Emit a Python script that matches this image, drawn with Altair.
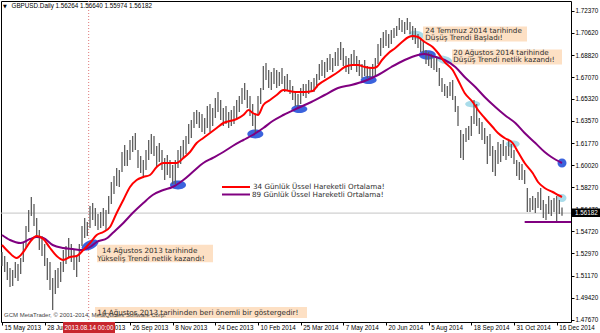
import altair as alt
import pandas as pd

# ---------------- data ----------------
BAR_IDX = list(range(0, 421, 2))  # bar index (trading days from 15 May 2013), every 2nd bar
BAR_HIGH = [
    1.5307, 1.5275, 1.5227, 1.5179, 1.5163, 1.5227, 1.5211, 1.5259, 1.5387, 1.5515,
    1.5643, 1.5747, 1.5691, 1.5579, 1.5483, 1.5435, 1.5371, 1.5259, 1.5227, 1.5099,
    1.5163, 1.5179, 1.5227, 1.5323, 1.5355, 1.5419, 1.5371, 1.5323, 1.5275, 1.5371,
    1.5515, 1.5579, 1.5547, 1.5675, 1.5699, 1.5659, 1.5611, 1.5627, 1.5659, 1.5643,
    1.5755, 1.5867, 1.5915, 1.5979, 1.5963, 1.6107, 1.6163, 1.6123, 1.6203, 1.6235,
    1.6259, 1.6123, 1.6075, 1.6043, 1.6123, 1.6203, 1.6251, 1.6235, 1.6155, 1.6179,
    1.6123, 1.6059, 1.6083, 1.6043, 1.6003, 1.6043, 1.6123, 1.6155, 1.6203, 1.6235,
    1.6331, 1.6363, 1.6427, 1.6443, 1.6427, 1.6411, 1.6379, 1.6475, 1.6491, 1.6459,
    1.6539, 1.6587, 1.6523, 1.6459, 1.6475, 1.6427, 1.6443, 1.6475, 1.6523, 1.6555,
    1.6619, 1.6659, 1.6603, 1.6555, 1.6491, 1.6411, 1.6555, 1.6619, 1.6795, 1.6819,
    1.6763, 1.6747, 1.6779, 1.6763, 1.6747, 1.6779, 1.6715, 1.6731, 1.6683, 1.6635,
    1.6587, 1.6571, 1.6619, 1.6651, 1.6651, 1.6683, 1.6667, 1.6699, 1.6731, 1.6811,
    1.6843, 1.6827, 1.6859, 1.6891, 1.6859, 1.6907, 1.6939, 1.6987, 1.6939, 1.6875,
    1.6859, 1.6891, 1.6923, 1.6875, 1.6843, 1.6811, 1.6843, 1.6795, 1.6779, 1.6811,
    1.6859, 1.6971, 1.7019, 1.7067, 1.7083, 1.7051, 1.7083, 1.7099, 1.7115, 1.7179,
    1.7163, 1.7147, 1.7179, 1.7147, 1.7115, 1.7099, 1.7051, 1.7019, 1.7003, 1.6923,
    1.6907, 1.6891, 1.6859, 1.6875, 1.6779, 1.6699, 1.6651, 1.6635, 1.6667, 1.6683,
    1.6555, 1.6475, 1.6283, 1.6251, 1.6299, 1.6315, 1.6395, 1.6523, 1.6491, 1.6379,
    1.6347, 1.6299, 1.6235, 1.6251, 1.6155, 1.6123, 1.6187, 1.6171, 1.6203, 1.6155,
    1.6203, 1.6171, 1.6123, 1.6043, 1.6027, 1.6011, 1.5963, 1.5819, 1.5739, 1.5755,
    1.5739, 1.5787, 1.5819, 1.5723, 1.5691, 1.5755, 1.5723, 1.5739, 1.5755, 1.5723, 1.5664,
]
BAR_LOW = [
    1.5195, 1.5147, 1.5083, 1.5027, 1.5035, 1.5099, 1.5075, 1.5131, 1.5227, 1.5339,
    1.5467, 1.5595, 1.5515, 1.5435, 1.5323, 1.5275, 1.5195, 1.5083, 1.5003, 1.4843,
    1.4971, 1.5019, 1.5067, 1.5147, 1.5211, 1.5259, 1.5227, 1.5163, 1.5107, 1.5227,
    1.5355, 1.5419, 1.5435, 1.5499, 1.5563, 1.5515, 1.5483, 1.5499, 1.5515, 1.5483,
    1.5611, 1.5691, 1.5771, 1.5835, 1.5827, 1.5947, 1.5995, 1.5995, 1.6043, 1.6107,
    1.6123, 1.5979, 1.5939, 1.5907, 1.5963, 1.6043, 1.6091, 1.6075, 1.5995, 1.6027,
    1.5963, 1.5883, 1.5923, 1.5899, 1.5851, 1.5851, 1.5979, 1.6011, 1.6059, 1.6091,
    1.6171, 1.6219, 1.6299, 1.6331, 1.6299, 1.6267, 1.6251, 1.6299, 1.6267, 1.6315,
    1.6379, 1.6427, 1.6363, 1.6315, 1.6331, 1.6299, 1.6315, 1.6331, 1.6379, 1.6427,
    1.6491, 1.6523, 1.6459, 1.6395, 1.6315, 1.6251, 1.6411, 1.6491, 1.6603, 1.6683,
    1.6619, 1.6603, 1.6651, 1.6619, 1.6635, 1.6651, 1.6587, 1.6603, 1.6571, 1.6523,
    1.6475, 1.6459, 1.6491, 1.6555, 1.6539, 1.6571, 1.6587, 1.6587, 1.6619, 1.6683,
    1.6715, 1.6699, 1.6747, 1.6763, 1.6747, 1.6795, 1.6795, 1.6843, 1.6795, 1.6747,
    1.6731, 1.6763, 1.6795, 1.6747, 1.6715, 1.6699, 1.6715, 1.6699, 1.6683, 1.6699,
    1.6715, 1.6811, 1.6875, 1.6939, 1.6955, 1.6939, 1.6971, 1.7019, 1.7035, 1.7083,
    1.7067, 1.7051, 1.7083, 1.7051, 1.7003, 1.6971, 1.6939, 1.6907, 1.6891, 1.6811,
    1.6795, 1.6779, 1.6763, 1.6747, 1.6635, 1.6587, 1.6555, 1.6539, 1.6555, 1.6523,
    1.6427, 1.6315, 1.6059, 1.6043, 1.6187, 1.6203, 1.6235, 1.6331, 1.6315, 1.6251,
    1.6203, 1.6171, 1.6011, 1.6075, 1.5947, 1.5915, 1.6011, 1.6027, 1.6075, 1.6043,
    1.6075, 1.6059, 1.6011, 1.5915, 1.5883, 1.5883, 1.5851, 1.5627, 1.5627, 1.5643,
    1.5619, 1.5659, 1.5643, 1.5579, 1.5563, 1.5611, 1.5595, 1.5627, 1.5547, 1.5611, 1.5597,
]

EMA34_IDX = [0, 5, 11, 16, 21, 26, 31, 36, 41, 46, 51, 56, 61, 66, 71, 76, 81, 86, 91, 96,
             101, 106, 111, 116, 121, 126, 131, 136, 141, 146, 151, 156, 161, 166, 171, 176,
             181, 185, 188, 192, 196, 201, 206, 211, 220, 227, 233, 237, 245, 252, 257, 263,
             267, 272, 278, 281, 285, 290, 295, 300, 305, 308, 312, 317, 323, 327, 332, 338,
             342, 347, 353, 357, 362, 368, 372, 377, 383, 387, 392, 398, 402, 407, 413, 417, 420]
EMA34 = [1.5363, 1.5307, 1.5259, 1.5307, 1.5387, 1.5435, 1.5411, 1.5339, 1.5275, 1.5243,
         1.5267, 1.5275, 1.5323, 1.5379, 1.5443, 1.5467, 1.5507, 1.5619, 1.5723, 1.5827,
         1.5883, 1.5907, 1.5923, 1.5987, 1.6019, 1.6019, 1.6019, 1.6059, 1.6107, 1.6179,
         1.6219, 1.6259, 1.6299, 1.6339, 1.6355, 1.6371, 1.6403, 1.6443, 1.6419, 1.6403,
         1.6483, 1.6523, 1.6563, 1.6603, 1.6587, 1.6587, 1.6595, 1.6643, 1.6699, 1.6747,
         1.6787, 1.6803, 1.6803, 1.6787, 1.6779, 1.6787, 1.6843, 1.6899, 1.6939, 1.6987,
         1.7027, 1.7035, 1.7027, 1.6987, 1.6947, 1.6899, 1.6827, 1.6763, 1.6683, 1.6579,
         1.6507, 1.6443, 1.6379, 1.6307, 1.6259, 1.6219, 1.6179, 1.6107, 1.6019, 1.5939,
         1.5867, 1.5819, 1.5787, 1.5763, 1.5747]

EMA89_IDX = [0, 6, 14, 21, 26, 31, 38, 46, 53, 60, 66, 71, 79, 83, 91, 98, 106, 113, 121, 128,
             136, 143, 151, 158, 166, 173, 181, 188, 196, 203, 211, 222, 232, 242, 252, 262,
             272, 282, 292, 302, 312, 317, 325, 332, 340, 347, 355, 362, 370, 377, 385, 392,
             400, 407, 412, 420]
EMA89 = [1.5443, 1.5403, 1.5379, 1.5411, 1.5427, 1.5419, 1.5363, 1.5339, 1.5331, 1.5323,
         1.5347, 1.5387, 1.5419, 1.5459, 1.5539, 1.5619, 1.5699, 1.5763, 1.5803, 1.5827,
         1.5883, 1.5947, 1.6019, 1.6059, 1.6107, 1.6155, 1.6203, 1.6243, 1.6299, 1.6355,
         1.6403, 1.6459, 1.6507, 1.6563, 1.6619, 1.6643, 1.6675, 1.6723, 1.6787, 1.6843,
         1.6883, 1.6891, 1.6867, 1.6843, 1.6787, 1.6707, 1.6627, 1.6547, 1.6467, 1.6403,
         1.6339, 1.6259, 1.6179, 1.6107, 1.6067, 1.6019]

PRICE_TICKS = [1.72370, 1.70620, 1.68820, 1.67070, 1.65320, 1.63570, 1.61770, 1.60020,
               1.58270, 1.56470, 1.54720, 1.52970, 1.51170, 1.49420, 1.47670]
DATE_TICK_IDX = [0, 32, 64, 96, 128, 160, 192, 224, 256, 288, 320, 352, 384, 416]
DATE_LABELS = ["15 May 2013", "28 Jun 2013", "13 Aug 2013", "26 Sep 2013", "8 Nov 2013",
               "24 Dec 2013", "10 Feb 2014", "25 Mar 2014", "7 May 2014", "20 Jun 2014",
               "5 Aug 2014", "18 Sep 2014", "31 Oct 2014", "16 Dec 2014"]

LAST_PRICE = 1.56182
OHLC = "1.56264 1.56640 1.55974 1.56182"
SUPPORT_PRICE = 1.5547
SUPPORT_FROM = 392
MARK_IDX = 65  # 14 Aug 2013

# highlighted touch points (ellipses)
ELL_IDX = [66, 132, 190, 223, 275, 319, 420, 311, 332, 353, 383, 420]
ELL_PRICE = [1.5363, 1.5843, 1.6251, 1.6451, 1.6683, 1.6883, 1.6019,
             1.7043, 1.6843, 1.6491, 1.6171, 1.5739]
ELL_KIND = ["dark"] * 7 + ["light"] * 5

# annotations
ANN_TEXT = ["24 Temmuz 2014 tarihinde", "Düşüş Trendi Başladı!",
            "20 Ağustos 2014 tarihinde", "Düşüş Trendi netlik kazandı!",
            "14 Ağustos 2013 tarihinde", "Yükseliş Trendi netlik kazandı!",
            "14 Ağustos 2013 tarihinden beri önemli bir göstergedir!"]
ANN_IDX = [317.5, 317.5, 338.5, 338.5, 75, 71.5, 71.5]
ANN_PRICE = [1.7077, 1.7021, 1.6897, 1.6841, 1.5319, 1.5255, 1.4823]
BOX_X1 = [315.75, 337.5, 71.25, 69.75]
BOX_X2 = [393.75, 420.0, 158.25, 228.75]
BOX_Y1 = [1.7111, 1.6927, 1.5365, 1.4867]
BOX_Y2 = [1.6991, 1.6807, 1.5225, 1.4779]

# ---------------- styles ----------------
RED = "#ff0000"
PURPLE = "#800080"
BAR_COLOR = "#5e5e5e"
PEACH = "#fde0c4"
DARK_BLUE = "#3b63dd"
LIGHT_BLUE = "#a9dcea"
TXT_FONT = "DejaVu Sans"
AX_FONT = "Liberation Sans"
TXT_SIZE = 7.2

ELL_W = [18, 16, 16, 16, 16, 17, 9, 16, 16, 15, 14, 9]
ELL_R = [0.5, 0.55, 0.55, 0.5, 0.5, 0.55, 1.0, 0.5, 0.5, 0.45, 0.5, 0.9]
ELL_ANG = [335, 0, 0, 0, 0, 0, 0, 10, 15, 0, 0, 0]

W, H = 570, 321
xs = alt.Scale(domain=[-0.75, 426.75], nice=False, zero=False)
ys = alt.Scale(domain=[1.4747, 1.7315], nice=False, zero=False)

label_arr = "[" + ",".join("'" + s + "'" for s in DATE_LABELS) + "]"

x_axis = alt.Axis(values=DATE_TICK_IDX, labelExpr=label_arr + "[round(datum.value/32)]",
                  orient="bottom", tickSize=3, tickColor="black", labelAlign="left",
                  labelOffset=2, labelPadding=-1, labelFont=AX_FONT, labelFontSize=6.3,
                  labelColor="black", domain=False, grid=False, title=None,
                  labelFlush=False, labelOverlap=False, labelBound=False)
y_axis = alt.Axis(values=PRICE_TICKS, format=".5f", orient="right", tickSize=3,
                  tickColor="black", labelPadding=1, labelFont=AX_FONT, labelFontSize=6.3,
                  labelColor="black", domain=False, grid=False, title=None,
                  labelOverlap=False, labelFlush=False, labelBound=False)


def X(field):
    return alt.X(field, scale=xs, axis=x_axis)


def Y(field):
    return alt.Y(field, scale=ys, axis=y_axis)


bars_df = pd.DataFrame({"idx": BAR_IDX, "high": BAR_HIGH, "low": BAR_LOW})
e34_df = pd.DataFrame({"idx": EMA34_IDX, "v": EMA34})
e89_df = pd.DataFrame({"idx": EMA89_IDX, "v": EMA89})
ell_df = pd.DataFrame({
    "idx": ELL_IDX, "p": ELL_PRICE,
    "col": [DARK_BLUE if k == "dark" else LIGHT_BLUE for k in ELL_KIND],
    "shape": [f"M-1,0A1,{r},0,1,0,1,0A1,{r},0,1,0,-1,0Z" for r in ELL_R],
    "size": [w * w for w in ELL_W],
    "ang": ELL_ANG,
})
ann_df = pd.DataFrame({"idx": ANN_IDX, "p": ANN_PRICE, "t": ANN_TEXT})
box_df = pd.DataFrame({"x1": BOX_X1, "x2": BOX_X2, "y1": BOX_Y1, "y2": BOX_Y2})
price_df = pd.DataFrame({"p": [LAST_PRICE]})
mark_df = pd.DataFrame({"idx": [MARK_IDX]})
sup_df = pd.DataFrame({"x1": [SUPPORT_FROM], "x2": [430], "p": [SUPPORT_PRICE]})
one = pd.DataFrame({"a": [0]})

price_line = alt.Chart(price_df).mark_rule(color="#c4c4c4", strokeWidth=1).encode(y=Y("p:Q"))
vline = alt.Chart(mark_df).mark_rule(color="#e07a7a", strokeWidth=1, strokeDash=[1, 2]).encode(
    x=X("idx:Q"))

ellipses = alt.Chart(ell_df).mark_point(filled=True, opacity=1, strokeWidth=0).encode(
    x=X("idx:Q"), y=Y("p:Q"),
    color=alt.Color("col:N", scale=None),
    shape=alt.Shape("shape:N", scale=None),
    size=alt.Size("size:Q", scale=None),
    angle=alt.Angle("ang:Q", scale=None),
)

boxes = alt.Chart(box_df).mark_rect(color=PEACH).encode(
    x=X("x1:Q"), x2="x2:Q", y=Y("y1:Q"), y2="y2:Q")

bars = alt.Chart(bars_df).mark_rule(color=BAR_COLOR, strokeWidth=1.3).encode(
    x=X("idx:Q"), y=Y("low:Q"), y2="high:Q")

ema89 = alt.Chart(e89_df).mark_line(color=PURPLE, strokeWidth=2, interpolate="monotone").encode(
    x=X("idx:Q"), y=Y("v:Q"))
ema34 = alt.Chart(e34_df).mark_line(color=RED, strokeWidth=2, interpolate="monotone").encode(
    x=X("idx:Q"), y=Y("v:Q"))

support = alt.Chart(sup_df).mark_rule(color=PURPLE, strokeWidth=2, clip=True).encode(
    x=X("x1:Q"), x2="x2:Q", y=Y("p:Q"))

copyright_txt = alt.Chart(one).mark_text(
    text="GCM MetaTrader, © 2001-2014, MetaQuotes Software Corp.", align="left",
    baseline="middle", font=AX_FONT, fontSize=6, color="#444444").encode(
    x=alt.value(3), y=alt.value(313.5))

ann = alt.Chart(ann_df).mark_text(align="left", baseline="middle", font=TXT_FONT,
                                  fontSize=TXT_SIZE, color="#2e2e2e").encode(
    x=X("idx:Q"), y=Y("p:Q"), text="t:N")

# legend
leg_r = alt.Chart(one).mark_rule(color=RED, strokeWidth=2).encode(
    x=alt.value(221), x2=alt.value(249), y=alt.value(186))
leg_p = alt.Chart(one).mark_rule(color=PURPLE, strokeWidth=2).encode(
    x=alt.value(221), x2=alt.value(249), y=alt.value(193.5))
leg_t1 = alt.Chart(one).mark_text(text="34 Günlük Üssel Hareketli Ortalama!", align="left",
                                  baseline="middle", font=TXT_FONT, fontSize=TXT_SIZE,
                                  color="#2e2e2e").encode(x=alt.value(252), y=alt.value(185.8))
leg_t2 = alt.Chart(one).mark_text(text="89 Günlük Üssel Hareketli Ortalama!", align="left",
                                  baseline="middle", font=TXT_FONT, fontSize=TXT_SIZE,
                                  color="#2e2e2e").encode(x=alt.value(251), y=alt.value(193.6))

# header
tri = alt.Chart(one).mark_text(text="▼", align="left", baseline="middle", font=TXT_FONT,
                               fontSize=5, color="black").encode(x=alt.value(2), y=alt.value(4.5))
head = alt.Chart(one).mark_text(text="GBPUSD.Daily  " + OHLC, align="left", baseline="middle",
                                font=AX_FONT, fontSize=6.3, color="black").encode(
    x=alt.value(10.5), y=alt.value(4.5))

# badges
date_badge = alt.Chart(one).mark_rect(color="#c8262e").encode(
    x=alt.value(62), x2=alt.value(114), y=alt.value(321), y2=alt.value(332))
date_badge_t = alt.Chart(one).mark_text(text="2013.08.14 00:00", align="center", baseline="middle",
                                        font=AX_FONT, fontSize=6.3, color="white").encode(
    x=alt.value(88), y=alt.value(326.8))
price_badge = alt.Chart(one).mark_rect(color="black").encode(
    x=alt.value(571), x2=alt.value(599), y=alt.value(207.5), y2=alt.value(216))
price_badge_t = alt.Chart(one).mark_text(text=f"{LAST_PRICE:.5f}", align="left", baseline="middle",
                                         font=AX_FONT, fontSize=6.3, color="white").encode(
    x=alt.value(574), y=alt.value(211.8))

chart = alt.layer(
    price_line, vline, ellipses, boxes, bars, ema89, ema34, support,
    copyright_txt, ann, leg_r, leg_p, leg_t1, leg_t2, tri, head,
    date_badge, date_badge_t, price_badge, price_badge_t,
).properties(
    width=W, height=H,
    padding={"left": 1, "top": 1, "right": 29, "bottom": 11},
    autosize=alt.AutoSizeParams(type="none"),
    background="white",
).configure_view(stroke="black", strokeWidth=1)

chart.save("out.html", embed_options={"renderer": "svg", "actions": False})
